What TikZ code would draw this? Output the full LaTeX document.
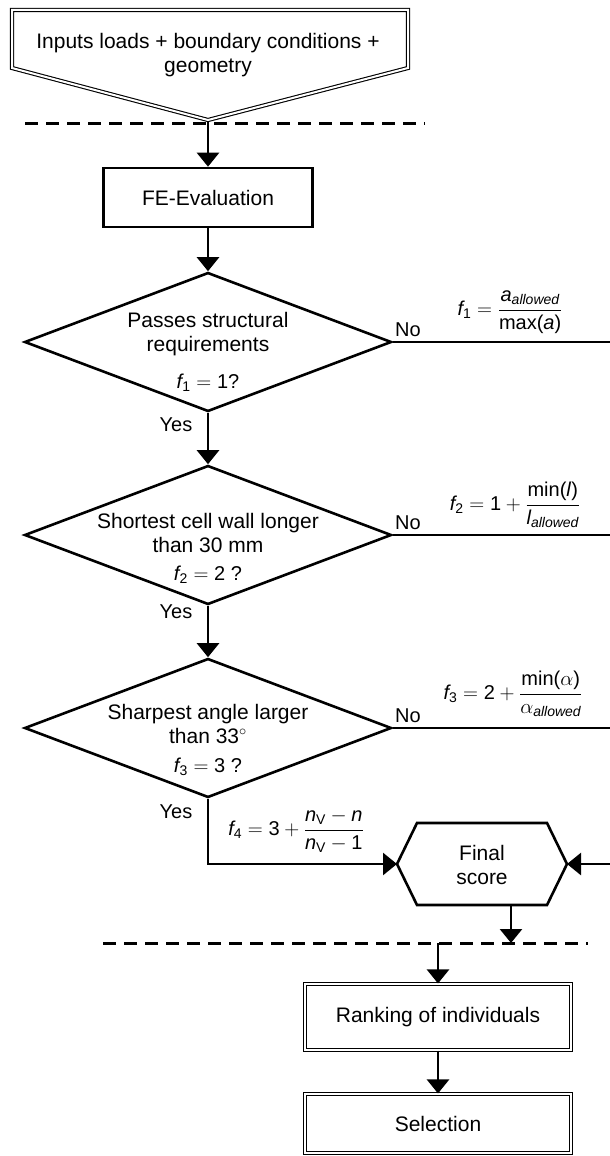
\documentclass[tikz,border=0pt]{standalone}
\usepackage{amsmath}
\usepackage{fontspec}
\setmainfont{Liberation Sans}
\usetikzlibrary{arrows.meta,shapes.geometric}
\newcommand{\fsub}[1]{\text{\itshape f}_{\text{#1}}}
\begin{document}
\begin{tikzpicture}[x=1pt,y=-1pt,
  every node/.style={font=\fontsize{21}{24}\selectfont, inner sep=0pt, align=center},
  lbl/.style={font=\fontsize{20}{24}\selectfont},
  fml/.style={font=\fontsize{20}{24}\selectfont},
  ln/.style={line width=2.6pt},
  arr/.style={line width=2.6pt, -{Triangle[length=14pt,width=22pt]}},
  dsh/.style={line width=3pt, dash pattern=on 13pt off 8pt},
  dbl/.style={line width=1.1pt, double, double distance=2pt},
  dec/.style={diamond, draw, line width=2.6pt, minimum width=367pt, minimum height=139pt, inner sep=0pt},
  boxs/.style={draw, line width=2.6pt},
  dboxs/.style={draw, dbl, minimum width=266pt}
]
\useasboundingbox (0,0) rectangle (610,1156);

% input (off-page connector shape)
\draw[dbl] (12,10) -- (408,10) -- (408,68) -- (208,120) -- (12,68) -- cycle;
\coordinate (intip) at (208,121);
\node (intxt) at (208,55) {Inputs loads + boundary conditions +\\geometry};

% top dashed line
\coordinate (dl1) at (25,123);
\coordinate (dr1) at (425,123);
\draw[dsh] (dl1) -- (dr1);

% FE box
\node[boxs, minimum width=209pt, minimum height=59pt] (fe) at (208,197.5) {FE-Evaluation};

% decisions
\node[dec] (d1) at (208,342) {};
\node (d1t) at (208,334) {Passes structural\\requirements};
\node[fml] (d1f) at (208,383) {$\fsub{1} = \text{1?}$};

\node[dec] (d2) at (208,535) {};
\node (d2t) at (208,533) {Shortest cell wall longer\\than 30 mm};
\node[fml] (d2f) at (208,575) {$\fsub{2} = \text{2 ?}$};

\node[dec] (d3) at (208,728) {};
\node (d3t) at (208,724) {Sharpest angle larger\\than 33$^\circ$};
\node[fml] (d3f) at (208,767) {$\fsub{3} = \text{3 ?}$};

% vertical arrows
\draw[arr] (intip) -- (fe.north);
\draw[arr] (fe.south) -- (d1.north);
\draw[arr] (d1.south) -- (d2.north);
\draw[arr] (d2.south) -- (d3.north);
\node[lbl] (y1) at (176,425) {Yes};
\node[lbl] (y2) at (176,612) {Yes};
\node[lbl] (y3) at (176,812) {Yes};

% No branches
\coordinate (e1) at (612,342);
\coordinate (e2) at (612,535);
\coordinate (e3) at (612,728);
\draw[ln] (d1.east) -- (e1);
\draw[ln] (d2.east) -- (e2);
\draw[ln] (d3.east) -- (e3);
\node[lbl] (n1) at (408,330) {No};
\node[lbl] (n2) at (408,523) {No};
\node[lbl] (n3) at (408,716) {No};
\node[fml] (f1) at (510,312) {$\fsub{1} = \dfrac{\text{\itshape a}_{\text{\itshape allowed}}}{\text{max(\itshape a\/\upshape)}}$};
\node[fml] (f2) at (515,505) {$\fsub{2} = \text{1} + \dfrac{\text{min(\itshape l\/\upshape)}}{\text{\itshape l}_{\text{\itshape allowed}}}$};
\node[fml] (f3) at (513,694) {$\fsub{3} = \text{2} + \dfrac{\text{min(}\alpha\text{)}}{\alpha_{\text{\itshape allowed}}}$};

% final score hexagon
\coordinate (fsL) at (397,864);
\coordinate (fsTL) at (417,823);
\coordinate (fsTR) at (547,823);
\coordinate (fsR) at (567,864);
\coordinate (fsBR) at (547,905);
\coordinate (fsBL) at (417,905);
\coordinate (fsB) at (511,905);
\draw[ln, line join=miter] (fsL) -- (fsTL) -- (fsTR) -- (fsR) -- (fsBR) -- (fsBL) -- cycle;
\node (fs) at (482,865) {Final\\score};

\draw[arr] (d3.south) |- (fsL);
\node[fml] (f4) at (296,831) {$\fsub{4} = \text{3} + \dfrac{\text{\itshape n}_{\text{V}} - \text{\itshape n}}{\text{\itshape n}_{\text{V}} - \text{1}}$};
\coordinate (eR) at (612,864);
\draw[arr] (eR) -- (fsR);

% lower dashed line
\coordinate (dl2) at (103,943);
\coordinate (dr2) at (588,943);
\coordinate (fsD) at (511,943);
\coordinate (dB) at (438,943);
\draw[dsh] (dl2) -- (dr2);
\draw[arr] (fsB) -- (fsD);

% ranking and selection
\node[dboxs, minimum height=66pt] (rank) at (438,1017) {Ranking of individuals};
\node[dboxs, minimum height=59pt] (sel) at (438,1123.5) {Selection};
\draw[arr] (dB) -- (rank.north);
\draw[arr] (rank.south) -- (sel.north);
\end{tikzpicture}
\end{document}
